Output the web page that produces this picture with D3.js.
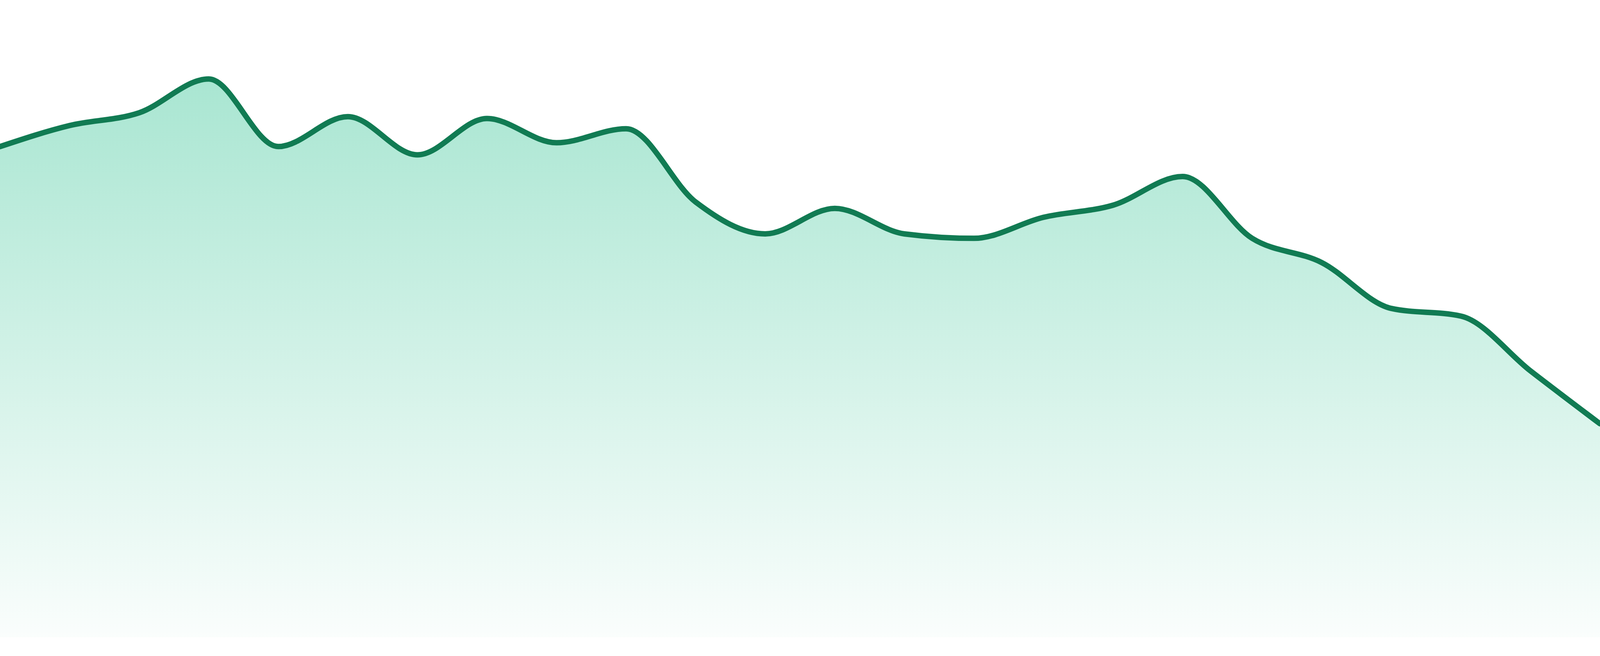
<!DOCTYPE html>
<html>
<head>
<meta charset="utf-8">
<script src="https://cdn.jsdelivr.net/npm/d3@7"></script>
<style>
  html, body { margin: 0; padding: 0; background: #ffffff; overflow: hidden; }
  svg { display: block; }
</style>
</head>
<body>
<svg id="chart"></svg>
<script>
// ---- data ----
const categories = ["1","2","3","4","5","6","7","8","9","10","11","12",
                    "13","14","15","16","17","18","19","20","21","22","23","24"];
const values = [77.0, 80.3, 82.3, 87.6, 77.0, 81.7, 75.7, 81.4, 77.6, 79.8, 68.3, 63.3,
                67.3, 63.3, 62.6, 65.9, 67.8, 72.3, 62.6, 58.8, 51.6, 50.4, 41.8, 33.5];
const yDomain = [0, 100];

// ---- layout (fills the actual viewport; designed for 4800x1680) ----
const W = window.innerWidth || 4800;
const H = window.innerHeight || 1680;
const sy = H / 1680;
const plotBottom = 1632 * sy;

const svg = d3.select("#chart").attr("width", W).attr("height", H);

const x = d3.scalePoint().domain(categories).range([0, W]);
const y = d3.scaleLinear().domain(yDomain).range([plotBottom, 0]);

const data = categories.map((c, i) => ({ c, v: values[i] }));

const defs = svg.append("defs");
const grad = defs.append("linearGradient")
  .attr("id", "areaGrad")
  .attr("x1", 0).attr("y1", 0).attr("x2", 0).attr("y2", 1);
grad.append("stop").attr("offset", "0%").attr("stop-color", "#10b981").attr("stop-opacity", 0.36);
grad.append("stop").attr("offset", "100%").attr("stop-color", "#10b981").attr("stop-opacity", 0.02);

const area = d3.area()
  .x(d => x(d.c))
  .y0(y(0))
  .y1(d => y(d.v))
  .curve(d3.curveMonotoneX);

const line = d3.line()
  .x(d => x(d.c))
  .y(d => y(d.v))
  .curve(d3.curveMonotoneX);

svg.append("path")
  .datum(data)
  .attr("d", area)
  .attr("fill", "url(#areaGrad)");

svg.append("path")
  .datum(data)
  .attr("d", line)
  .attr("fill", "none")
  .attr("stroke", "#117b53")
  .attr("stroke-width", 14 * sy)
  .attr("stroke-linejoin", "round")
  .attr("stroke-linecap", "round");
</script>
</body>
</html>
